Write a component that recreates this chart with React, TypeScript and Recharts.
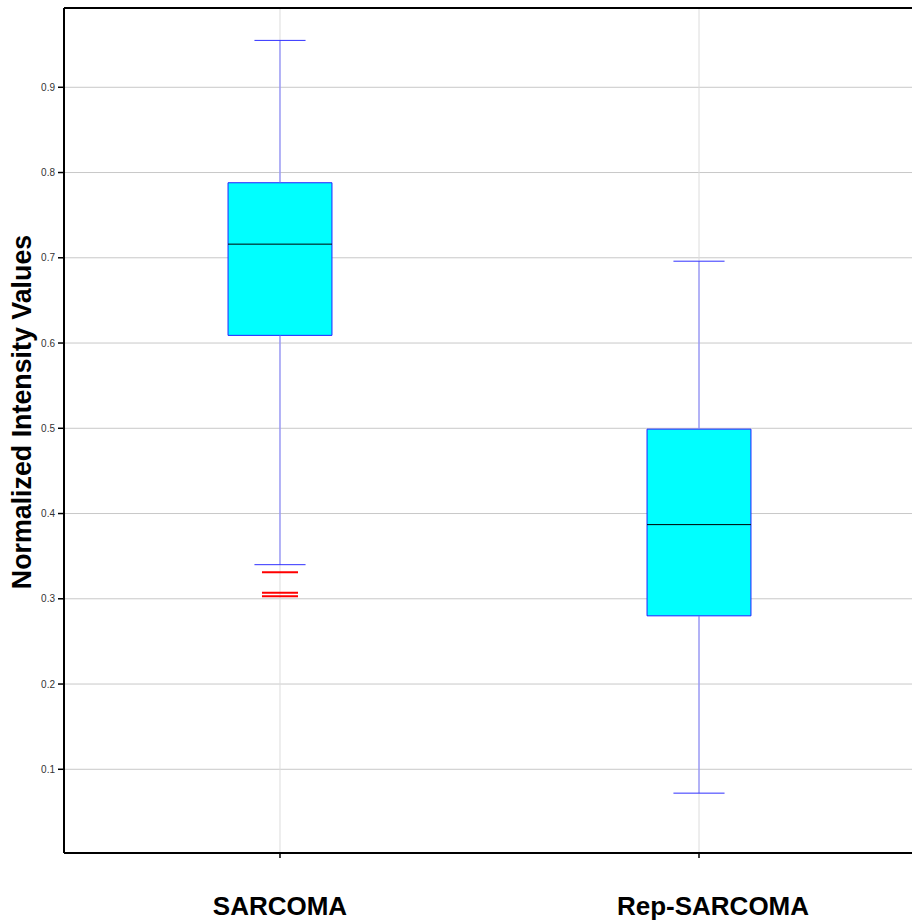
import React from 'react';
import {
  ComposedChart,
  Scatter,
  XAxis,
  YAxis,
  CartesianGrid,
  ReferenceArea,
  ReferenceLine,
} from 'recharts';

const categories = ['SARCOMA', 'Rep-SARCOMA'];
const positions = [1, 2];
const whiskerHigh = [0.955, 0.696];
const q3 = [0.788, 0.499];
const median = [0.716, 0.387];
const q1 = [0.609, 0.28];
const whiskerLow = [0.34, 0.072];
const outliers: number[][] = [[0.331, 0.307, 0.303], []];
const yTicks = [0.1, 0.2, 0.3, 0.4, 0.5, 0.6, 0.7, 0.8, 0.9];

const Y_MIN = 0.0018;
const Y_MAX = 0.993;
const X_MIN = 0.4845;
const X_MAX = 2.5155;
const BOX_HALF = 0.124;
const CAP_HALF = 0.061;
const OUT_HALF = 0.043;
const LABEL_SHIFT = [0, 14];

const FONT = '"Liberation Sans", Arial, sans-serif';

const medianPoints = positions.map((p, i) => ({ x: p, y: median[i] }));

const CategoryTick = (props: any) => {
  const { x, y, payload } = props;
  const idx = positions.indexOf(payload.value);
  return (
    <text
      x={x + (LABEL_SHIFT[idx] ?? 0)}
      y={y}
      dy="0.71em"
      textAnchor="middle"
      fontSize={26}
      fontWeight="bold"
      fill="#000"
      fontFamily={FONT}
    >
      {categories[idx] ?? ''}
    </text>
  );
};

export default function App() {
  return (
    <div style={{ width: 912, height: 923, overflow: 'hidden', position: 'relative' }}>
      <style>{`body{margin:0}`}</style>
      <ComposedChart
        width={920}
        height={923}
        margin={{ top: 8, right: 5, bottom: 0, left: 0 }}
        style={{ fontFamily: FONT }}
      >
        <CartesianGrid horizontal={true} vertical={false} stroke="#c8c8c8" strokeWidth={1} />
        <CartesianGrid horizontal={false} vertical={true} stroke="#dcdcdc" strokeWidth={1} />
        <XAxis
          type="number"
          dataKey="x"
          domain={[X_MIN, X_MAX]}
          allowDataOverflow
          ticks={positions}
          height={70}
          axisLine={{ stroke: '#000', strokeWidth: 2 }}
          tickLine={{ stroke: '#000', strokeWidth: 1.5 }}
          tickSize={5}
          tickMargin={39}
          tick={<CategoryTick />}
        />
        <YAxis
          type="number"
          dataKey="y"
          domain={[Y_MIN, Y_MAX]}
          allowDataOverflow
          ticks={yTicks}
          width={64}
          axisLine={{ stroke: '#000', strokeWidth: 2 }}
          tickLine={{ stroke: '#000', strokeWidth: 1.5 }}
          tickSize={6}
          tickMargin={3}
          tick={{ fontSize: 10, fill: '#333', fontFamily: FONT }}
          label={{
            content: () => (
              <text
                x={22}
                y={412}
                transform="rotate(-90 22 412)"
                textAnchor="middle"
                dominantBaseline="central"
                fontSize={26.8}
                fontWeight="bold"
                fill="#000"
                fontFamily={FONT}
              >
                Normalized Intensity Values
              </text>
            ),
          }}
        />
        <ReferenceLine y={Y_MAX} stroke="#000" strokeWidth={2} ifOverflow="visible" />
        {positions.map((p, i) => (
          <ReferenceLine
            key={`wh-${i}`}
            segment={[{ x: p, y: q3[i] }, { x: p, y: whiskerHigh[i] }]}
            stroke="#7878ff"
            strokeWidth={1}
          />
        ))}
        {positions.map((p, i) => (
          <ReferenceLine
            key={`wl-${i}`}
            segment={[{ x: p, y: whiskerLow[i] }, { x: p, y: q1[i] }]}
            stroke="#7878ff"
            strokeWidth={1}
          />
        ))}
        {positions.map((p, i) => (
          <ReferenceLine
            key={`ch-${i}`}
            segment={[{ x: p - CAP_HALF, y: whiskerHigh[i] }, { x: p + CAP_HALF, y: whiskerHigh[i] }]}
            stroke="#3030ff"
            strokeWidth={1}
          />
        ))}
        {positions.map((p, i) => (
          <ReferenceLine
            key={`cl-${i}`}
            segment={[{ x: p - CAP_HALF, y: whiskerLow[i] }, { x: p + CAP_HALF, y: whiskerLow[i] }]}
            stroke="#3030ff"
            strokeWidth={1}
          />
        ))}
        {positions.map((p, i) => (
          <ReferenceArea
            key={`box-${i}`}
            x1={p - BOX_HALF}
            x2={p + BOX_HALF}
            y1={q1[i]}
            y2={q3[i]}
            fill="#00ffff"
            fillOpacity={1}
            stroke="#2020ff"
            strokeWidth={1}
          />
        ))}
        {positions.map((p, i) => (
          <ReferenceLine
            key={`med-${i}`}
            segment={[{ x: p - BOX_HALF, y: median[i] }, { x: p + BOX_HALF, y: median[i] }]}
            stroke="#000"
            strokeWidth={1}
          />
        ))}
        {positions.flatMap((p, i) =>
          outliers[i].map((o, j) => (
            <ReferenceLine
              key={`out-${i}-${j}`}
              segment={[{ x: p - OUT_HALF, y: o }, { x: p + OUT_HALF, y: o }]}
              stroke="#ff0000"
              strokeWidth={2}
            />
          ))
        )}
        <Scatter
          data={medianPoints}
          dataKey="y"
          isAnimationActive={false}
          shape={() => <g />}
        />
      </ComposedChart>
    </div>
  );
}
